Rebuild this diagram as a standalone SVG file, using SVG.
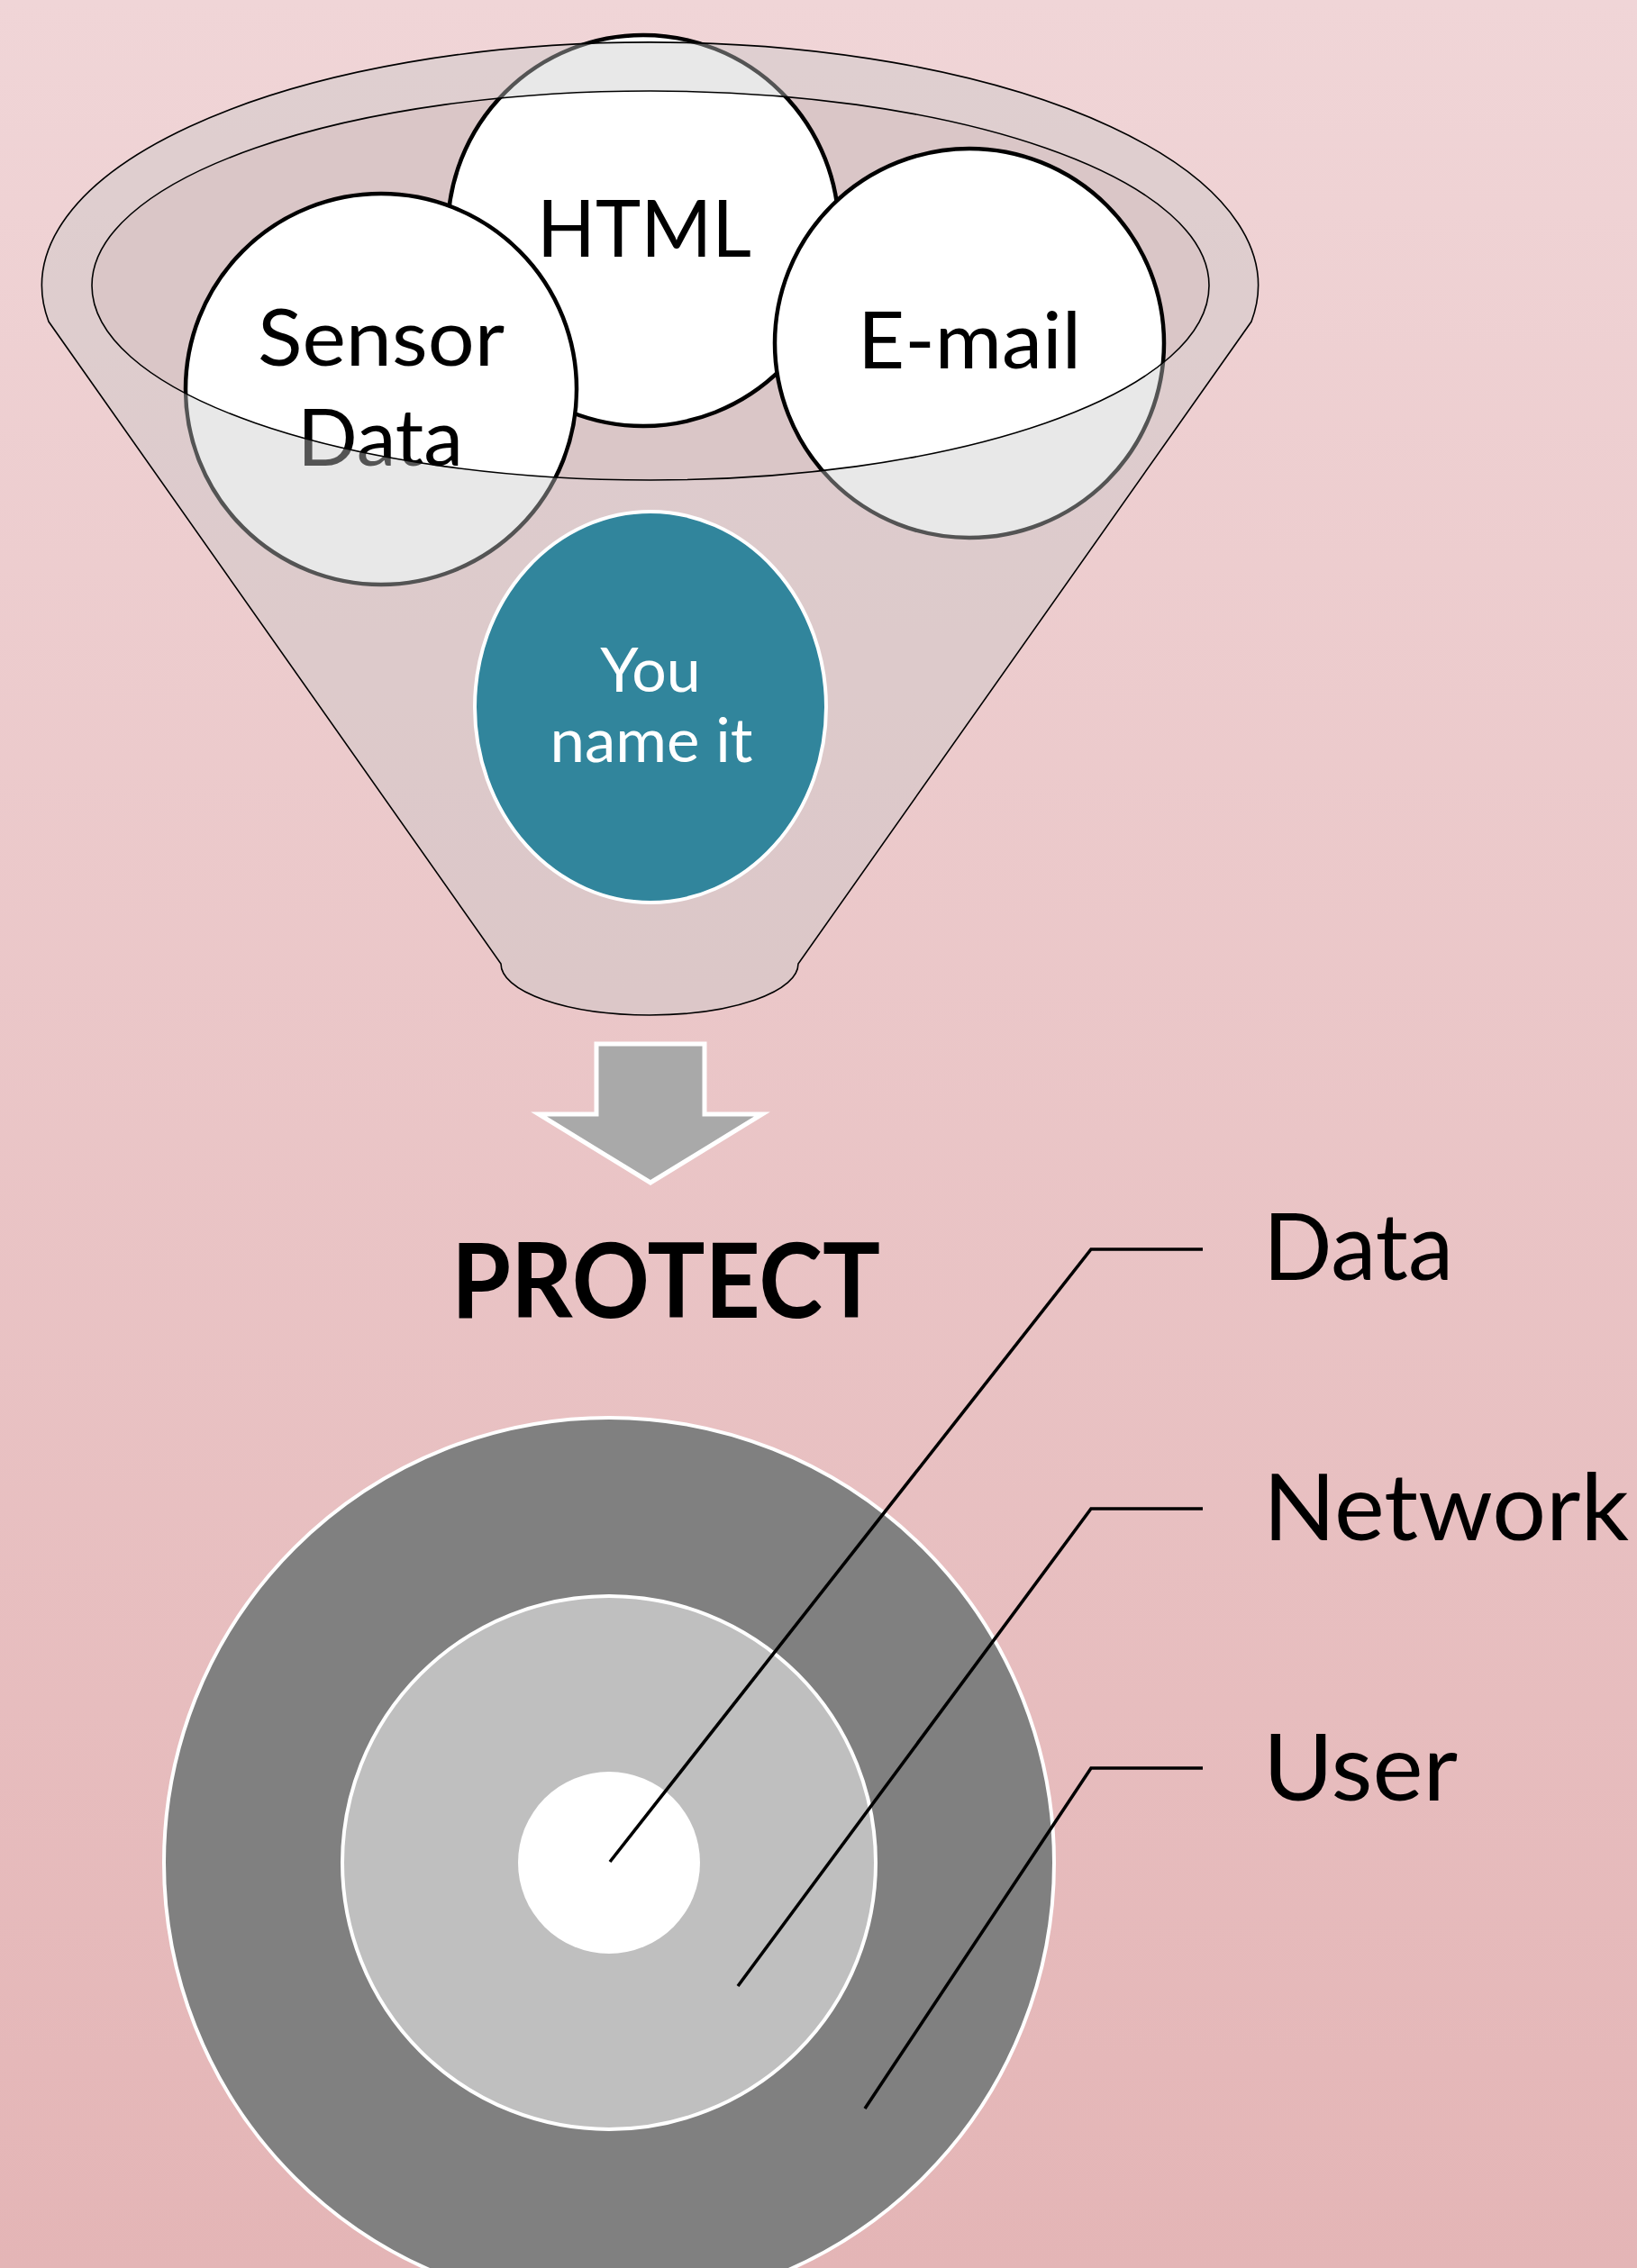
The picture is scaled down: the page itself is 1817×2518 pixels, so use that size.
<svg xmlns="http://www.w3.org/2000/svg" width="1817" height="2518" viewBox="0 0 1817 2518">
  <defs>
    <linearGradient id="bg" x1="0" y1="0" x2="0" y2="1">
      <stop offset="0" stop-color="#f0d5d7"/>
      <stop offset="1" stop-color="#e4b5b6"/>
    </linearGradient>
    <style>
      .lbl { font-family: Lato, "Open Sans", "Liberation Sans", sans-serif; }
      .bubble { fill: #ffffff; stroke: #000000; stroke-width: 4.5; }
      .bubble-text { font-size: 88px; fill: #000000; text-anchor: middle; }
      .ring { stroke: #ffffff; stroke-width: 4; }
      .leader { fill: none; stroke: #000000; stroke-width: 3.6; }
      .layer-text { font-size: 103px; fill: #000000; }
    </style>
  </defs>

  <!-- background -->
  <rect x="0" y="0" width="1817" height="2518" fill="url(#bg)"/>

  <!-- funnel opening (behind the bubbles) -->
  <g id="funnel-back">
    <ellipse cx="722" cy="317" rx="620" ry="216" fill="#dac6c7"/>
  </g>

  <!-- source bubbles -->
  <g id="node-html">
    <circle class="bubble" cx="714" cy="256" r="217"/>
    <text class="lbl bubble-text" x="715" y="285" textLength="238" lengthAdjust="spacingAndGlyphs">HTML</text>
  </g>
  <g id="node-sensor">
    <circle class="bubble" cx="423" cy="432" r="217"/>
    <text class="lbl bubble-text" x="423" y="406" textLength="274" lengthAdjust="spacingAndGlyphs">Sensor</text>
    <text class="lbl bubble-text" x="422" y="517" textLength="184" lengthAdjust="spacingAndGlyphs">Data</text>
  </g>
  <g id="node-email">
    <circle class="bubble" cx="1076" cy="381" r="216"/>
    <text class="lbl bubble-text" x="1076" y="409" textLength="248" lengthAdjust="spacingAndGlyphs">E-mail</text>
  </g>

  <!-- funnel body, translucent, with the opening cut out -->
  <g id="funnel-front">
    <path fill="#c8c8c8" fill-opacity="0.42" fill-rule="evenodd" stroke="#000000" stroke-width="1.6"
          d="M 54 357 A 675 270 0 1 1 1389 357 L 886 1070 A 165 57 0 0 1 556 1070 Z
             M 102 317 A 620 216 0 1 0 1342 317 A 620 216 0 1 0 102 317 Z"/>
  </g>

  <g id="node-other">
    <ellipse cx="722" cy="785" rx="195" ry="217" fill="#31859c" stroke="#ffffff" stroke-width="4"/>
    <text class="lbl" x="722" y="768" font-size="68" fill="#ffffff" text-anchor="middle">You</text>
    <text class="lbl" x="723" y="846" font-size="68" fill="#ffffff" text-anchor="middle" textLength="225" lengthAdjust="spacingAndGlyphs">name it</text>
  </g>

  <!-- down arrow -->
  <g id="arrow">
    <polygon points="662,1159 782,1159 782,1237 846,1237 722,1313 598,1237 662,1237"
             fill="#a9a9a9" stroke="#ffffff" stroke-width="5"/>
  </g>

  <g id="title">
    <text class="lbl" x="739" y="1463" font-size="114" font-weight="bold" fill="#000000" text-anchor="middle" textLength="476" lengthAdjust="spacingAndGlyphs">PROTECT</text>
  </g>

  <!-- protection layers -->
  <g id="layer-user">
    <circle class="ring" cx="676" cy="2068" r="494" fill="#808080"/>
  </g>
  <g id="layer-network">
    <circle class="ring" cx="676" cy="2068" r="296" fill="#bfbfbf"/>
  </g>
  <g id="layer-data">
    <circle cx="676" cy="2068" r="101" fill="#ffffff"/>
  </g>

  <!-- callout leaders -->
  <g id="connectors">
    <path class="leader" d="M 1335 1387 H 1211 L 677 2067"/>
    <path class="leader" d="M 1335 1675 H 1211 L 819 2205"/>
    <path class="leader" d="M 1335 1963 H 1211 L 960 2341"/>
  </g>

  <g id="label-data">
    <text class="lbl layer-text" x="1402" y="1421" textLength="211" lengthAdjust="spacingAndGlyphs">Data</text>
  </g>
  <g id="label-network">
    <text class="lbl layer-text" x="1402" y="1710" textLength="406" lengthAdjust="spacingAndGlyphs">Network</text>
  </g>
  <g id="label-user">
    <text class="lbl layer-text" x="1402" y="1999" textLength="216" lengthAdjust="spacingAndGlyphs">User</text>
  </g>
</svg>
